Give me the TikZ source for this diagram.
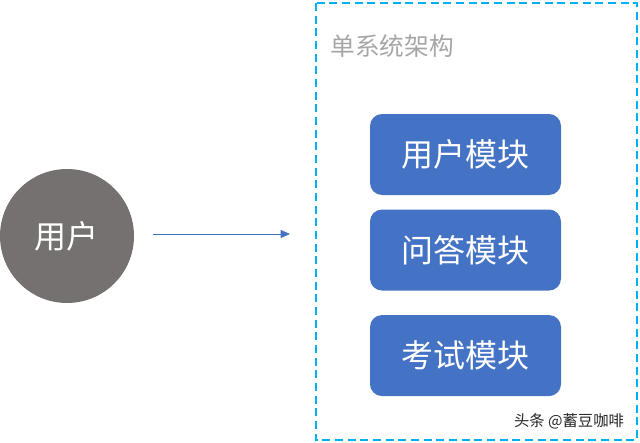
\documentclass[tikz,border=0pt]{standalone}
\usepackage{fontspec}
\setmainfont{Noto Sans CJK SC}
\usetikzlibrary{arrows.meta, positioning}
\definecolor{moduleblue}{HTML}{4472C4}
\definecolor{usergray}{HTML}{767171}
\definecolor{framecyan}{HTML}{00B0F0}
\definecolor{titlegray}{HTML}{A6A6A6}

\begin{document}
\begin{tikzpicture}[
    x=0.75pt, y=-0.75pt,
    module/.style={
        rectangle, rounded corners=9pt,
        minimum width=143.25pt, minimum height=60.75pt,
        text centered, fill=moduleblue, text=white,
        inner sep=0pt, font=\fontsize{24}{28}\selectfont
    },
    user/.style={
        circle, minimum size=100.5pt, inner sep=0pt,
        fill=usergray, text=white, font=\fontsize{24}{28}\selectfont
    },
    arrow/.style={
        line width=0.6pt, draw=moduleblue,
        -{Triangle[length=7pt, width=6pt]}
    },
    frame/.style={
        draw=framecyan, line width=1.3pt,
        dash pattern=on 6pt off 3.5pt
    },
    title/.style={
        font=\fontsize{18.5}{22}\selectfont, text=titlegray
    },
    mark label/.style={
        font=\fontsize{11.5}{14}\selectfont, text=black!85
    }
]
\useasboundingbox (0,0) rectangle (640,443);

% ===== Frame =====
\draw[frame] (316,3) rectangle (637,440);
\node[title] (head) at (392,46) {单系统架构};

% ===== Nodes =====
\node[user] (u) at (67,236) {用户};

\node[module] (m1) at (465.5,154.5) {用户模块};
\node[module, below=10.5pt of m1] (m2) {问答模块};
\node[module, below=18pt of m2]   (m3) {考试模块};

\coordinate (tip) at (290,234);
\coordinate (tail) at (153,234);

\node[mark label] (wm) at (569,421) {头条 @蓄豆咖啡};

% ===== Arrows =====
\draw[arrow] (tail) -- (tip);

\end{tikzpicture}
\end{document}
